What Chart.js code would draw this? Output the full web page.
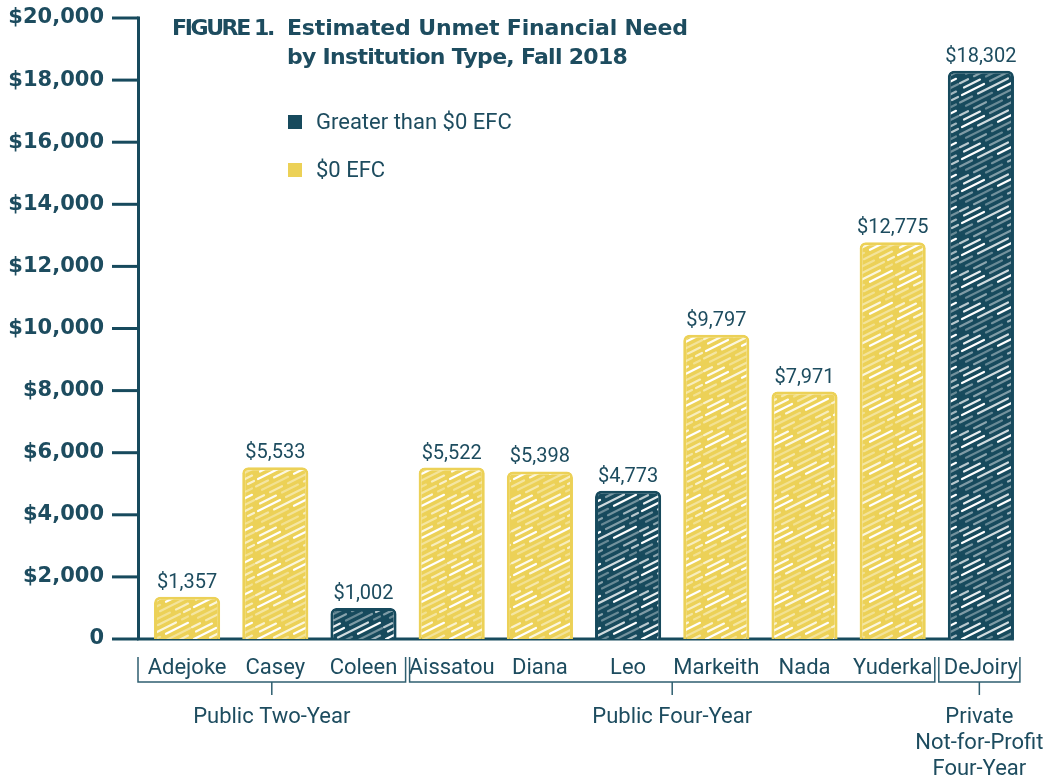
<!DOCTYPE html>
<html>
<head>
<meta charset="utf-8">
<script src="https://cdn.jsdelivr.net/npm/chart.js@4.4.1/dist/chart.umd.min.js"></script>
<style>
  html, body { margin: 0; padding: 0; background: #fff; }
</style>
</head>
<body>
<canvas id="chart" width="1055" height="782"></canvas>
<script>
// data
const students = ['Adejoke', 'Casey', 'Coleen', 'Aissatou', 'Diana', 'Leo', 'Markeith', 'Nada', 'Yuderka', 'DeJoiry'];
const aboveZeroEfc = [null, null, 1002, null, null, 4773, null, null, null, 18302];
const zeroEfc = [1357, 5533, null, 5522, 5398, null, 9797, 7971, 12775, null];
const groupNames = [['Public Two-Year'], ['Public Four-Year'], ['Private', 'Not-for-Profit', 'Four-Year']];
const groupFirst = [0, 3, 9];
const groupLast = [2, 8, 9];
const yTicks = [0, 2000, 4000, 6000, 8000, 10000, 12000, 14000, 16000, 18000, 20000];
const seriesNames = ['Greater than $0 EFC', '$0 EFC'];

const NAVY = '#174a5d';
const GOLD = '#ecd157';
const INK = '#1d4c5f';

// striped fill like the print figure
function stripes(color) {
  const c = document.createElement('canvas');
  c.width = 64; c.height = 32;
  const g = c.getContext('2d');
  g.fillStyle = color;
  g.fillRect(0, 0, 64, 32);
  g.strokeStyle = '#fff';
  g.lineWidth = 2.2;
  g.lineCap = 'round';
  const segs = [
    [[2, 24, 1], [30, 52, 0.45], [56, 62, 0.7]],
    [[0, 12, 0.45], [18, 48, 0.8], [54, 60, 0.35]],
    [[6, 32, 0.35], [38, 60, 1]],
    [[0, 8, 0.7], [14, 26, 0.5], [32, 62, 0.4]],
    [[4, 20, 0.9], [26, 42, 0.35], [48, 60, 0.6]]
  ];
  segs.forEach((line, k) => {
    const c0 = k * 6.4;
    line.forEach(([a, b, al]) => {
      g.globalAlpha = al;
      for (const dx of [-64, 0, 64]) {
        for (const dy of [-32, 0, 32]) {
          g.beginPath();
          g.moveTo(a + dx, c0 + 32 - 0.5 * a + dy);
          g.lineTo(b + dx, c0 + 32 - 0.5 * b + dy);
          g.stroke();
        }
      }
    });
  });
  return g.createPattern(c, 'repeat');
}

const fmt = v => '$' + v.toLocaleString('en-US');
const NUM_FONT = '20px Roboto';
const TEXT_FONT = '22px Roboto';
const HEAD_FONT = 'bold 22px "DejaVu Sans"';

// squeeze or spread a heading to the printed width
function fitText(ctx, text, x, y, width) {
  ctx.letterSpacing = '0px';
  const w = ctx.measureText(text).width;
  ctx.letterSpacing = ((width - w) / text.length).toFixed(2) + 'px';
  ctx.fillText(text, x, y);
  ctx.letterSpacing = '0px';
}

const decor = {
  id: 'decor',
  beforeDatasetsDraw(chart) {
    const ctx = chart.ctx, x = chart.scales.x, y = chart.scales.y;
    const ax = 138.5, base = y.getPixelForValue(0);
    ctx.save();
    ctx.strokeStyle = NAVY;
    ctx.lineWidth = 3;
    ctx.beginPath();
    ctx.moveTo(ax, y.getPixelForValue(20000) - 1.5);
    ctx.lineTo(ax, base);
    ctx.lineTo(x.getPixelForValue(students.length - 1) + 33, base);
    ctx.stroke();
    yTicks.forEach(t => {
      const py = y.getPixelForValue(t);
      ctx.beginPath();
      ctx.moveTo(112, py);
      ctx.lineTo(ax, py);
      ctx.stroke();
    });
    ctx.restore();
  },
  afterDatasetsDraw(chart) {
    const ctx = chart.ctx;
    ctx.save();
    ctx.fillStyle = INK;
    ctx.font = NUM_FONT;
    ctx.textAlign = 'center';
    ctx.textBaseline = 'bottom';
    chart.data.datasets.forEach((ds, i) => {
      chart.getDatasetMeta(i).data.forEach((bar, j) => {
        if (ds.data[j] == null) return;
        ctx.fillText(fmt(ds.data[j]), bar.x, bar.y - 4);
      });
    });
    ctx.restore();
  },
  afterDraw(chart) {
    const ctx = chart.ctx, x = chart.scales.x;
    ctx.save();
    // group brackets
    ctx.strokeStyle = '#2f5f70';
    ctx.lineWidth = 1.5;
    const step = x.getPixelForValue(1) - x.getPixelForValue(0);
    groupNames.forEach((lines, g) => {
      const l = g === 0 ? 138 : x.getPixelForValue(groupFirst[g]) - step / 2 + 2;
      const r = x.getPixelForValue(groupLast[g]) + (g === groupNames.length - 1 ? 39 : step / 2 - 2);
      const mid = (l + r) / 2;
      ctx.beginPath();
      ctx.moveTo(l, 657); ctx.lineTo(l, 682); ctx.lineTo(r, 682); ctx.lineTo(r, 657);
      ctx.moveTo(mid, 682); ctx.lineTo(mid, 695);
      ctx.stroke();
      ctx.fillStyle = INK;
      ctx.font = TEXT_FONT;
      ctx.textAlign = 'center';
      ctx.textBaseline = 'middle';
      lines.forEach((t, k) => ctx.fillText(t, mid, 717 + k * 26));
    });
    // title
    ctx.fillStyle = INK;
    ctx.textAlign = 'left';
    ctx.textBaseline = 'alphabetic';
    ctx.font = HEAD_FONT;
    fitText(ctx, 'FIGURE 1.', 172, 35, 101);
    fitText(ctx, 'Estimated Unmet Financial Need', 287, 35, 401);
    fitText(ctx, 'by Institution Type, Fall 2018', 287, 64, 340);
    // legend
    [NAVY, GOLD].forEach((c, i) => {
      ctx.fillStyle = c;
      ctx.fillRect(288, 115 + i * 48, 14, 14);
      ctx.fillStyle = INK;
      ctx.font = TEXT_FONT;
      ctx.textBaseline = 'middle';
      ctx.fillText(seriesNames[i], 316, 123 + i * 48);
    });
    ctx.restore();
  }
};

const barStyle = (color) => ({
  backgroundColor: stripes(color),
  borderColor: color,
  borderWidth: 3,
  borderRadius: 6,
  borderSkipped: 'bottom',
  barPercentage: 0.75,
  categoryPercentage: 1,
  grouped: false
});

new Chart(document.getElementById('chart'), {
  type: 'bar',
  data: {
    labels: students,
    datasets: [
      Object.assign({ label: seriesNames[0], data: aboveZeroEfc }, barStyle(NAVY)),
      Object.assign({ label: seriesNames[1], data: zeroEfc }, barStyle(GOLD))
    ]
  },
  options: {
    responsive: false,
    devicePixelRatio: 1,
    animation: false,
    layout: { padding: { top: 18, right: 30, left: 0, bottom: 0 } },
    plugins: { legend: { display: false }, tooltip: { enabled: false } },
    scales: {
      x: {
        grid: { display: false },
        border: { display: false },
        ticks: { color: INK, font: { family: 'Roboto', size: 22 }, padding: 8, autoSkip: false, maxRotation: 0 },
        afterFit: s => { s.height = 143; s.paddingLeft = 0; s.paddingRight = 0; }
      },
      y: {
        min: 0, max: 20000,
        grid: { display: false },
        border: { display: false },
        ticks: {
          stepSize: 2000,
          color: INK,
          padding: 31,
          font: { family: '"DejaVu Sans"', size: 21, weight: 'bold' },
          callback: v => v === 0 ? '0' : fmt(v)
        },
        afterFit: s => { s.width = 143; s.paddingTop = 0; s.paddingBottom = 0; }
      }
    }
  },
  plugins: [decor]
});
</script>
</body>
</html>
